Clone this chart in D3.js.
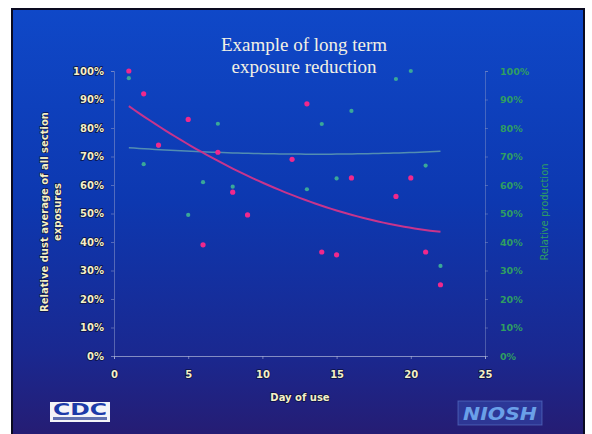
<!DOCTYPE html>
<html><head><meta charset="utf-8">
<script src="https://cdn.jsdelivr.net/npm/d3@7"></script>
<style>html,body{margin:0;padding:0;background:#fff;}svg{display:block;}</style>
</head>
<body>
<svg id="chart" width="592" height="434"></svg>
<script>
// Relative dust exposure (left axis) by day of use
const dustDays = [1, 2, 3, 5, 6, 7, 8, 9, 12, 13, 14, 15, 16, 19, 20, 21, 22];
const dustValues = [100, 92, 74, 83, 39, 71.5, 57.5, 49.5, 69, 88.5, 36.5, 35.5, 62.5, 56, 62.5, 36.5, 25];
// Relative production (right axis) by day of use
const prodDays = [1, 2, 3, 5, 6, 7, 8, 13, 14, 15, 16, 19, 20, 21, 22];
const prodValues = [97.5, 67.3, 73.8, 49.5, 61, 81.5, 59.4, 58.5, 81.4, 62.3, 86, 97.2, 100, 66.8, 31.6];
const xTickValues = [0, 5, 10, 15, 20, 25];
const yTickValues = [0, 10, 20, 30, 40, 50, 60, 70, 80, 90, 100];
const titleLines = ["Example of long term", "exposure reduction"];
const leftTitleLines = ["Relative dust average of all section", "exposures"];
const rightTitle = "Relative production";
const xTitle = "Day of use";

const svg = d3.select("#chart");

// slide background
const defs = svg.append("defs");
const grad = defs.append("linearGradient").attr("id", "bg").attr("x1", 0).attr("y1", 0).attr("x2", 0).attr("y2", 1);
grad.append("stop").attr("offset", "0%").attr("stop-color", "#0f48c8");
grad.append("stop").attr("offset", "45%").attr("stop-color", "#0d38b0");
grad.append("stop").attr("offset", "80%").attr("stop-color", "#1a2890");
grad.append("stop").attr("offset", "100%").attr("stop-color", "#261c72");
svg.append("rect").attr("x", 12).attr("y", 9).attr("width", 572).attr("height", 430)
  .attr("fill", "url(#bg)").attr("stroke", "#0a0a20").attr("stroke-width", 2);

const x = d3.scaleLinear().domain([0, 25]).range([114, 485]);
const y = d3.scaleLinear().domain([0, 100]).range([356, 71]);

const pct = d => d + "%";
const labelFont = "'DejaVu Sans', sans-serif";

// left axis
const yl = svg.append("g").attr("transform", `translate(${x(0)},0)`)
  .call(d3.axisLeft(y).tickValues(yTickValues).tickFormat(pct).tickSize(3).tickPadding(7));
yl.select(".domain").attr("stroke", "#8a96c8").attr("stroke-opacity", 0.55);
yl.selectAll(".tick line").attr("stroke", "#8a96c8").attr("stroke-opacity", 0.55);
yl.selectAll(".tick text").attr("fill", "#f4f0c8").attr("font-family", labelFont)
  .attr("font-weight", "bold").attr("font-size", 10).style("paint-order", "stroke")
  .attr("stroke", "#0a1040").attr("stroke-width", 1.5);

// right axis
const yr = svg.append("g").attr("transform", `translate(${x(25)},0)`)
  .call(d3.axisRight(y).tickValues(yTickValues).tickFormat(pct).tickSize(3).tickPadding(12));
yr.select(".domain").attr("stroke", "#8a96c8").attr("stroke-opacity", 0.45);
yr.selectAll(".tick line").attr("stroke", "#8a96c8").attr("stroke-opacity", 0.45);
yr.selectAll(".tick text").attr("fill", "#2f9e62").attr("font-family", labelFont)
  .attr("font-weight", "bold").attr("font-size", 9.5);

// bottom axis
const xa = svg.append("g").attr("transform", `translate(0,${y(0)})`)
  .call(d3.axisBottom(x).tickValues(xTickValues).tickSize(3).tickPadding(12));
xa.select(".domain").attr("stroke", "#b0b8d8").attr("stroke-opacity", 0.7);
xa.selectAll(".tick line").attr("stroke", "#b0b8d8").attr("stroke-opacity", 0.6);
xa.selectAll(".tick text").attr("fill", "#f4f0c8").attr("font-family", labelFont)
  .attr("font-weight", "bold").attr("font-size", 10).style("paint-order", "stroke")
  .attr("stroke", "#0a1040").attr("stroke-width", 1.5);

// least squares quadratic trend
function quadFit(xs, ys) {
  const n = xs.length;
  let s = [0, 0, 0, 0, 0], t = [0, 0, 0];
  for (let i = 0; i < n; i++) {
    let p = 1;
    for (let k = 0; k < 5; k++) { s[k] += p; if (k < 3) t[k] += p * ys[i]; p *= xs[i]; }
  }
  const M = [[s[0], s[1], s[2], t[0]], [s[1], s[2], s[3], t[1]], [s[2], s[3], s[4], t[2]]];
  for (let i = 0; i < 3; i++) {
    for (let j = i + 1; j < 3; j++) {
      const f = M[j][i] / M[i][i];
      for (let k = i; k < 4; k++) M[j][k] -= f * M[i][k];
    }
  }
  const c = [0, 0, 0];
  for (let i = 2; i >= 0; i--) {
    let v = M[i][3];
    for (let k = i + 1; k < 3; k++) v -= M[i][k] * c[k];
    c[i] = v / M[i][i];
  }
  return xv => c[0] + c[1] * xv + c[2] * xv * xv;
}

function trendPath(xs, ys) {
  const f = quadFit(xs, ys);
  const lo = d3.min(xs), hi = d3.max(xs);
  const pts = d3.range(0, 61).map(i => lo + (hi - lo) * i / 60);
  return d3.line().x(d => x(d)).y(d => y(f(d)))(pts);
}

svg.append("path").attr("d", trendPath(prodDays, prodValues))
  .attr("fill", "none").attr("stroke", "#6aa8b0").attr("stroke-width", 1.5).attr("stroke-opacity", 0.75);
svg.append("path").attr("d", trendPath(dustDays, dustValues))
  .attr("fill", "none").attr("stroke", "#c8348c").attr("stroke-width", 2);

// points
svg.append("g").selectAll("circle").data(prodDays).join("circle")
  .attr("cx", (d) => x(d)).attr("cy", (d, i) => y(prodValues[i])).attr("r", 2.1)
  .attr("fill", "#3aa898");
svg.append("g").selectAll("circle").data(dustDays).join("circle")
  .attr("cx", (d) => x(d)).attr("cy", (d, i) => y(dustValues[i])).attr("r", 2.6)
  .attr("fill", "#f0288c");

// titles
svg.append("text").attr("text-anchor", "middle").attr("fill", "#f2f0e4")
  .attr("font-family", "'Liberation Serif', 'Times New Roman', serif").attr("font-size", 19)
  .selectAll("tspan").data(titleLines).join("tspan")
  .attr("x", 304).attr("y", (d, i) => 51 + i * 22).text(d => d);

svg.append("text").attr("transform", "translate(48,212) rotate(-90)").attr("text-anchor", "middle")
  .attr("fill", "#f4f0c8").attr("font-family", labelFont).attr("font-weight", "bold").attr("font-size", 10)
  .style("paint-order", "stroke").attr("stroke", "#0a1040").attr("stroke-width", 1.2)
  .selectAll("tspan").data(leftTitleLines).join("tspan")
  .attr("x", 0).attr("y", (d, i) => i * 13).text(d => d);

svg.append("text").attr("transform", "translate(548,212) rotate(-90)").attr("text-anchor", "middle")
  .attr("fill", "#2f9e62").attr("font-family", labelFont).attr("font-size", 10).text(rightTitle);

svg.append("text").attr("x", 300).attr("y", 401).attr("text-anchor", "middle")
  .attr("fill", "#f4f0c8").attr("font-family", labelFont).attr("font-weight", "bold").attr("font-size", 10)
  .style("paint-order", "stroke").attr("stroke", "#0a1040").attr("stroke-width", 1.5).text(xTitle);

// CDC logo
const cdc = svg.append("g").attr("transform", "translate(50,402)");
cdc.append("rect").attr("width", 60).attr("height", 20).attr("fill", "#f4f4f8");
cdc.append("text").attr("x", 30).attr("y", 13).attr("text-anchor", "middle").attr("fill", "#1c3aa8")
  .attr("font-family", labelFont).attr("font-weight", "bold").attr("font-size", 15)
  .attr("textLength", 54).attr("lengthAdjust", "spacingAndGlyphs").text("CDC");
cdc.append("rect").attr("x", 3).attr("y", 15).attr("width", 54).attr("height", 3).attr("fill", "#6070b0");

// NIOSH logo
const niosh = svg.append("g").attr("transform", "translate(458,401)");
niosh.append("rect").attr("width", 84).attr("height", 24).attr("fill", "#3a54b8").attr("fill-opacity", 0.45)
  .attr("stroke", "#6a88d8").attr("stroke-opacity", 0.5);
niosh.append("text").attr("x", 42).attr("y", 19).attr("text-anchor", "middle").attr("fill", "#6aa0e8")
  .attr("font-family", labelFont).attr("font-weight", "bold").attr("font-style", "italic").attr("font-size", 18)
  .attr("textLength", 74).attr("lengthAdjust", "spacingAndGlyphs").text("NIOSH");
</script>
</body></html>
